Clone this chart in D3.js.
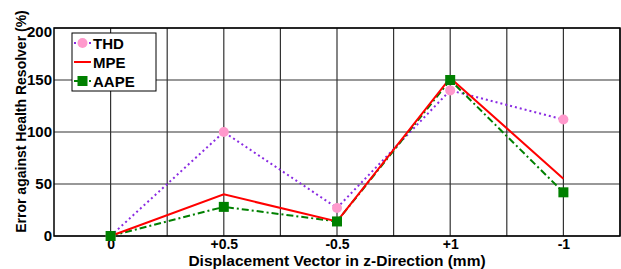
<!DOCTYPE html>
<html>
<head>
<meta charset="utf-8">
<script src="https://cdn.jsdelivr.net/npm/d3@7"></script>
<style>
  body { margin: 0; background: #fff; }
  text { font-family: "Liberation Sans", Arial, sans-serif; font-weight: bold; }
</style>
</head>
<body>
<div id="chart"></div>
<script>
// Data
var categories = ["0", "+0.5", "-0.5", "+1", "-1"];
var thd  = [0, 100, 27, 140, 112];
var mpe  = [0, 40, 14, 152, 55];
var aape = [0, 28, 14, 150, 42];
var yTicks = [0, 50, 100, 150, 200];

var margin = {top: 28, right: 1, bottom: 33, left: 54},
    width = 621 - margin.left - margin.right,
    height = 269 - margin.top - margin.bottom;

var svg = d3.select("#chart")
  .append("svg")
    .attr("width", 621)
    .attr("height", 269)
  .append("g")
    .attr("transform", "translate(" + margin.left + "," + margin.top + ")");

var x = d3.scaleLinear()
    .domain([-0.5, categories.length - 0.5])
    .range([0, width]);

var y = d3.scaleLinear()
    .domain([0, 200])
    .range([height, 0]);

// grid
var gridX = d3.range(0, categories.length - 0.5 + 0.01, 0.5);
svg.append("g").selectAll("line")
  .data(gridX)
  .enter().append("line")
    .attr("x1", d => x(d)).attr("x2", d => x(d))
    .attr("y1", 0).attr("y2", height)
    .attr("stroke", "#333").attr("stroke-width", 1.2);
svg.append("g").selectAll("line")
  .data(yTicks)
  .enter().append("line")
    .attr("x1", 0).attr("x2", width)
    .attr("y1", d => y(d)).attr("y2", d => y(d))
    .attr("stroke", "#333").attr("stroke-width", 1.2);

// axes
var xAxis = svg.append("g")
    .attr("transform", "translate(0," + height + ")")
    .call(d3.axisBottom(x).tickValues(d3.range(categories.length))
      .tickFormat(i => categories[i]).tickSize(0).tickPadding(3));
xAxis.select(".domain").remove();
xAxis.selectAll("text").attr("font-size", 14).attr("fill", "#000")
  .style("font-family", "Liberation Sans, Arial, sans-serif").style("font-weight", "bold");

var yAxis = svg.append("g")
    .call(d3.axisLeft(y).tickValues(yTicks).tickSize(0).tickPadding(2));
yAxis.select(".domain").remove();
yAxis.selectAll("text").attr("font-size", 15).attr("fill", "#000")
  .style("font-family", "Liberation Sans, Arial, sans-serif").style("font-weight", "bold");
// top label sits a little lower, as in the figure
yAxis.selectAll(".tick").filter(d => d === 200).select("text").attr("dy", "0.55em");

svg.append("rect")
    .attr("width", width).attr("height", height)
    .attr("fill", "none").attr("stroke", "#000").attr("stroke-width", 1.5);

// series
var line = d3.line().x((d, i) => x(i)).y(d => y(d));

svg.append("path").datum(thd)
    .attr("d", line).attr("fill", "none")
    .attr("stroke", "#8a2be2").attr("stroke-width", 2)
    .attr("stroke-dasharray", "2,3");
svg.append("path").datum(aape)
    .attr("d", line).attr("fill", "none")
    .attr("stroke", "#008000").attr("stroke-width", 2)
    .attr("stroke-dasharray", "7,3,2,3");
svg.append("path").datum(mpe)
    .attr("d", line).attr("fill", "none")
    .attr("stroke", "#ff0000").attr("stroke-width", 2);

svg.append("g").selectAll("circle")
  .data(thd)
  .enter().append("circle")
    .attr("cx", (d, i) => x(i)).attr("cy", d => y(d))
    .attr("r", 5).attr("fill", "#ff99cc");
svg.append("g").selectAll("rect")
  .data(aape)
  .enter().append("rect")
    .attr("x", (d, i) => x(i) - 5).attr("y", d => y(d) - 5)
    .attr("width", 10).attr("height", 10).attr("fill", "#008000");

// legend
var legend = svg.append("g").attr("transform", "translate(18,5)");
legend.append("rect")
    .attr("width", 84).attr("height", 58)
    .attr("fill", "#fff").attr("stroke", "#000").attr("stroke-width", 1);
var items = [
  {name: "THD", color: "#8a2be2", dash: "2,3", marker: "circle"},
  {name: "MPE", color: "#ff0000", dash: null, marker: null},
  {name: "AAPE", color: "#008000", dash: "7,3,2,3", marker: "square"}
];
items.forEach(function(it, i) {
  var cy = 10 + i * 19;
  legend.append("line")
      .attr("x1", 2).attr("x2", 19).attr("y1", cy).attr("y2", cy)
      .attr("stroke", it.color).attr("stroke-width", 2)
      .attr("stroke-dasharray", it.dash);
  if (it.marker === "circle") {
    legend.append("circle").attr("cx", 10.5).attr("cy", cy).attr("r", 5).attr("fill", "#ff99cc");
  } else if (it.marker === "square") {
    legend.append("rect").attr("x", 5.5).attr("y", cy - 5).attr("width", 10).attr("height", 10).attr("fill", "#008000");
  }
  legend.append("text")
      .attr("x", 21).attr("y", cy + 5.5)
      .attr("font-size", 15).text(it.name);
});

// axis titles
svg.append("text")
    .attr("x", width / 2).attr("y", height + 30)
    .attr("text-anchor", "middle").attr("font-size", 15.5)
    .text("Displacement Vector in z-Direction (mm)");
svg.append("text")
    .attr("transform", "rotate(-90)")
    .attr("x", -(121.5 - margin.top)).attr("y", -28)
    .attr("text-anchor", "middle").attr("font-size", 14)
    .text("Error against Health Resolver (%)");
</script>
</body>
</html>
